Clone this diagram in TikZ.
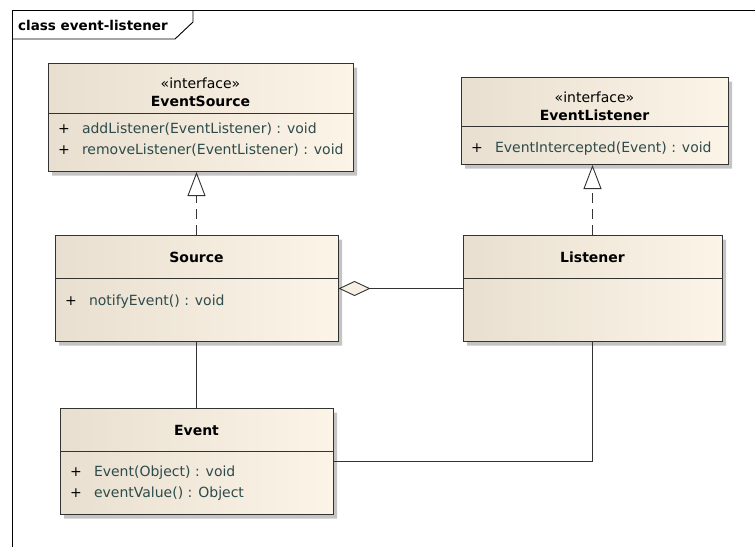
\documentclass[tikz,border=0pt]{standalone}
\usepackage{fontspec}
\setmainfont{DejaVu Sans}
\usetikzlibrary{positioning}
\usetikzlibrary{shapes}
\usetikzlibrary{shadows}
\usetikzlibrary{arrows.meta}

\definecolor{clsleft}{HTML}{E8DFD0}
\definecolor{clsright}{HTML}{FCF4E7}
\definecolor{clsline}{HTML}{333333}
\definecolor{clsshadow}{HTML}{C4C4C4}
\definecolor{opcolor}{HTML}{2D4B4B}
\definecolor{diafill}{HTML}{F6F0E4}

% compartments of a class box
\newcommand{\headpart}[3]{\parbox[c][#2][c]{#1}{\centering\baselineskip=18pt #3}}
\newcommand{\bodypart}[4]{\parbox[c][#2][t]{#1}{\vspace*{#3}\baselineskip=21pt #4\par}}
\newcommand{\op}[1]{\hspace*{10pt}\makebox[24pt][l]{+}\textcolor{opcolor}{#1}}

\begin{document}
\begin{tikzpicture}[x=1pt,y=-1pt,font=\fontsize{13.5}{16}\selectfont,
	classbox/.style={rectangle split, rectangle split parts=2, draw=clsline, line width=1pt,
		inner sep=0pt, left color=clsleft, right color=clsright, font=\fontsize{14}{16}\selectfont,
		drop shadow={shadow xshift=4pt, shadow yshift=-4pt, fill=clsshadow, opacity=1}},
	realize/.style={draw=clsline, line width=0.9pt, dash pattern=on 10pt off 6pt,
		-{Triangle[open, length=24pt, width=18pt]}},
	aggregate/.style={draw=clsline, line width=0.9pt,
		{Diamond[length=32pt, width=15pt, fill=diafill]}-},
	assoc/.style={draw=clsline, line width=0.9pt}]
	\useasboundingbox (0,0) rectangle (755,547);

	% Frame
	\draw[line width=0.9pt] (12,547) -- (12,10) -- (755,10);
	\draw[line width=0.9pt] (12,39) -- (175,39) -- (193,22) -- (193,10);
	\node[anchor=west, inner sep=0pt] (title) at (18,25) {\textbf{class event-listener}};

	% Place nodes
	\node[classbox, anchor=north] (esrc) at (200.5,63)
		{\headpart{305pt}{49pt}{\vspace*{8pt}«interface»\\\textbf{EventSource}}
		\nodepart{two}\bodypart{305pt}{57pt}{9pt}{\op{addListener(EventListener) : void}\par\op{removeListener(EventListener) : void}}};
	\node[classbox, below=63pt of esrc, xshift=-4pt] (src)
		{\headpart{283pt}{42pt}{\textbf{Source}}
		\nodepart{two}\bodypart{283pt}{62pt}{16pt}{\op{notifyEvent() : void}}};
	\node[classbox, below=66pt of src] (evt)
		{\headpart{273pt}{42pt}{\textbf{Event}}
		\nodepart{two}\bodypart{273pt}{62pt}{14pt}{\op{Event(Object) : void}\par\op{eventValue() : Object}}};
	\node[classbox, right=124pt of src] (lst)
		{\headpart{259pt}{42pt}{\textbf{Listener}}
		\nodepart{two}\bodypart{259pt}{62pt}{0pt}{}};
	\node[classbox, above=70pt of lst, xshift=2pt] (elst)
		{\headpart{267pt}{48pt}{\vspace*{8pt}«interface»\\\textbf{EventListener}}
		\nodepart{two}\bodypart{267pt}{37pt}{15pt}{\op{EventIntercepted(Event) : void}}};

	% Connectors
	\draw[realize] (src.north) -- (src.north |- esrc.south);
	\draw[realize] (lst.north) -- (lst.north |- elst.south);
	\draw[aggregate] (src.east) -- (lst.west);
	\draw[assoc] (src.south) -- (evt.north);
	\draw[assoc] (evt.east) -| (lst.south);
\end{tikzpicture}
\end{document}
